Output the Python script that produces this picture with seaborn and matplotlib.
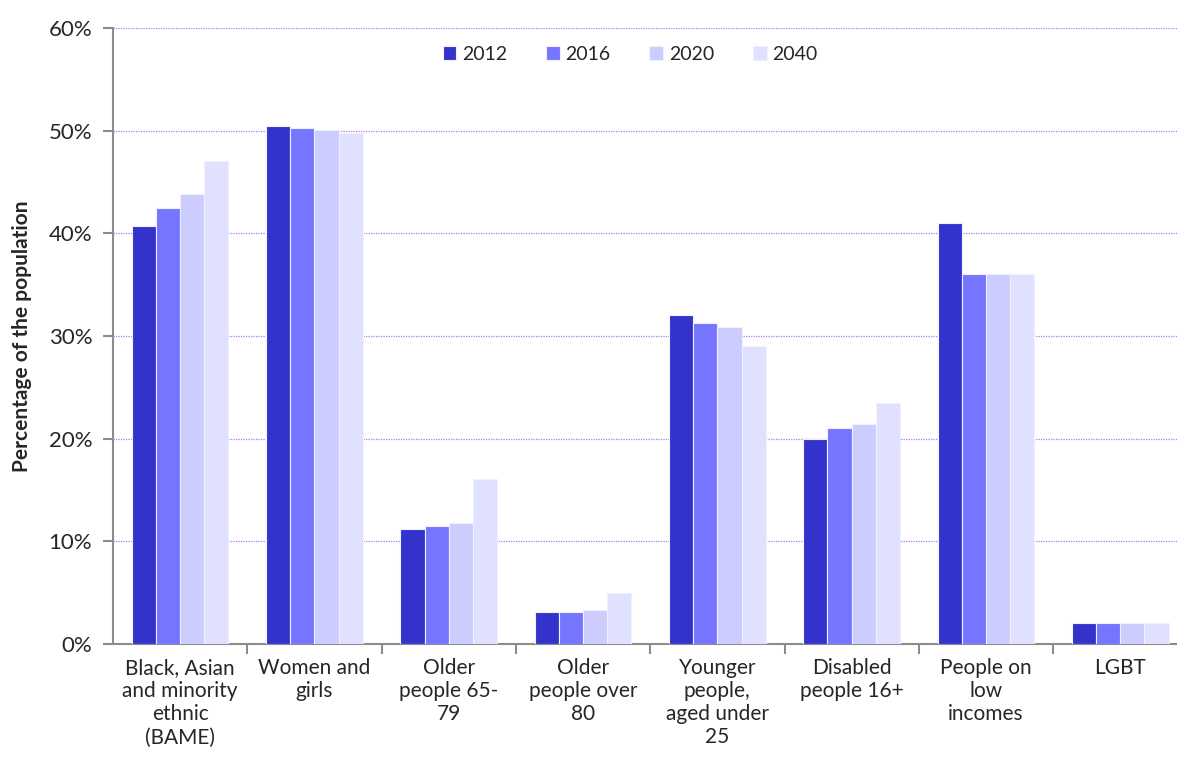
import numpy as np
import pandas as pd
import seaborn as sns
import matplotlib.pyplot as plt
from matplotlib.ticker import FixedLocator, PercentFormatter

categories = ["Black, Asian\nand minority\nethnic\n(BAME)", "Women and\ngirls",
              "Older\npeople 65-\n79", "Older\npeople over\n80",
              "Younger\npeople,\naged under\n25", "Disabled\npeople 16+",
              "People on\nlow\nincomes", "LGBT"]
years = ["2012", "2016", "2020", "2040"]
v2012 = [40.7, 50.5, 11.2, 3.1, 32.0, 20.0, 41.0, 2.0]
v2016 = [42.5, 50.3, 11.5, 3.1, 31.3, 21.0, 36.0, 2.0]
v2020 = [43.8, 50.1, 11.8, 3.3, 30.9, 21.4, 36.0, 2.0]
v2040 = [47.0, 49.8, 16.1, 5.0, 29.0, 23.5, 36.0, 2.0]
colors = ["#3333CC", "#7575FF", "#CCCCFF", "#E0E0FF"]

rows = []
for yr, vals in zip(years, [v2012, v2016, v2020, v2040]):
    for c, v in zip(categories, vals):
        rows.append({"cat": c, "year": yr, "value": v})
df = pd.DataFrame(rows)

sns.set_style("white")
plt.rcParams['font.family'] = ['Lato', 'DejaVu Sans']

fig = plt.figure(figsize=(11.77, 7.76), dpi=100)
ax = fig.add_axes([113 / 1177, 132 / 776, 1064 / 1177, 616 / 776])

sns.barplot(data=df, x="cat", y="value", hue="year", palette=colors, saturation=1,
            width=0.72, edgecolor="#F0F0FF", linewidth=0.8, ax=ax, zorder=3)

ax.set_ylim(0, 60)
ax.set_xlim(-0.5, -0.5 + 1064 / 134.3)
ax.yaxis.set_major_locator(FixedLocator(np.arange(0, 61, 10)))
ax.yaxis.set_major_formatter(PercentFormatter(decimals=0))
ax.grid(axis="y", color="#A37CFF", linestyle=(0, (1, 1)), linewidth=0.9, zorder=0)
ax.set_axisbelow(True)

for s in ["top", "right"]:
    ax.spines[s].set_visible(False)
for s in ["left", "bottom"]:
    ax.spines[s].set_color("#8C8C8C")
    ax.spines[s].set_linewidth(1.5)

ax.tick_params(axis="y", which="major", length=7, color="#8C8C8C", width=1.5,
               labelsize=16, pad=8, left=True)
ax.tick_params(axis="x", which="major", length=0, labelsize=15, pad=10)
ax.xaxis.set_minor_locator(FixedLocator(np.arange(0.5, 8, 1)))
ax.tick_params(axis="x", which="minor", length=7, color="#8C8C8C", width=1.5, bottom=True)
ax.set_xlabel("")
ax.set_ylabel("Percentage of the population", fontsize=15, fontweight="bold", labelpad=12)

ax.legend(loc="upper center", bbox_to_anchor=(0.486, 1.0), ncol=4, frameon=False,
          fontsize=14, handlelength=0.7, handleheight=0.7, handletextpad=0.3,
          columnspacing=2.0)

fig.savefig("out.png", dpi=100)
